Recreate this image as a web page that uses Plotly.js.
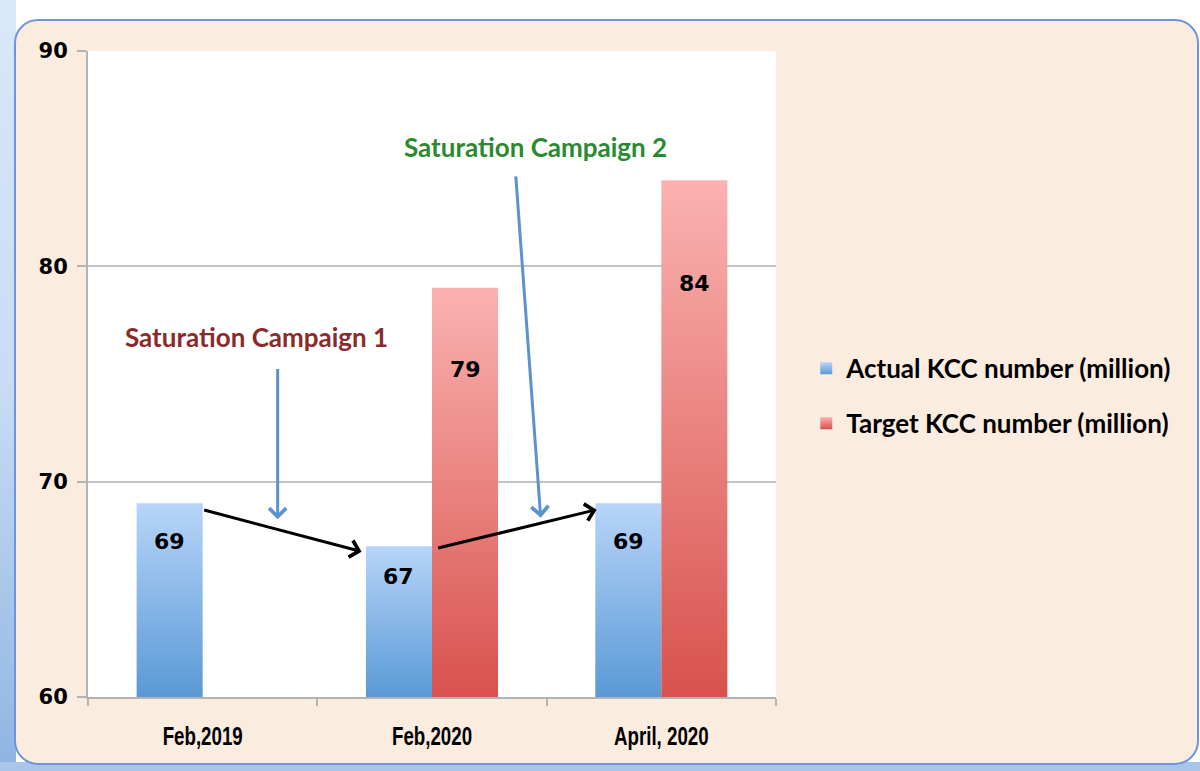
<!DOCTYPE html>
<html>
<head>
<meta charset="utf-8">
<script src="https://cdn.plot.ly/plotly-3.0.1.min.js"></script>
<style>
  html, body { margin: 0; padding: 0; background: #ffffff; }
  #wrap { position: relative; width: 1200px; height: 771px; overflow: hidden; }
  #leftstrip { position: absolute; left: 0; top: 0; width: 16px; height: 771px;
    background: linear-gradient(#d9e8fa, #c8dcf4 50%, #8fb4e2); }
  #bottomstrip { position: absolute; left: 0; top: 762px; width: 1200px; height: 9px; background: #a9c6ea; }
  #frame { position: absolute; left: 14px; top: 19px; width: 1181px; height: 742px;
    background: #fbece0; border: 2px solid #6f95d8; border-radius: 24px; }
  #chart { position: absolute; left: 0; top: 0; width: 1200px; height: 771px; }
</style>
</head>
<body>
<svg width="0" height="0" style="position:absolute">
  <defs>
    <linearGradient id="gBlue" x1="0" y1="0" x2="0" y2="1">
      <stop offset="0" stop-color="#b7d5f8"/>
      <stop offset="1" stop-color="#5a99d6"/>
    </linearGradient>
    <linearGradient id="gRed" x1="0" y1="0" x2="0" y2="1">
      <stop offset="0" stop-color="#fab2b1"/>
      <stop offset="1" stop-color="#d8524d"/>
    </linearGradient>
  </defs>
</svg>
<div id="wrap">
  <div id="leftstrip"></div>
  <div id="bottomstrip"></div>
  <div id="frame"></div>
  <div id="chart"></div>
</div>
<script>
// ---- data ----
const categories = ["Feb,2019", "Feb,2020", "April, 2020"];
const actualKCC = [69, 67, 69];
const targetKCC = [null, 79, 84];
const seriesNames = ["Actual KCC number (million)", "Target KCC number (million)"];
const yTicks = [60, 70, 80, 90];
const campaignLabels = ["Saturation Campaign 1", "Saturation Campaign 2"];

// ---- styling ----
const BARGAP = 0.424;
const barOffset = (1 - BARGAP) / 4;   // centre offset of each bar inside its group (category units)
const yMin = yTicks[0];
const blue = "#8bb9ea";
const red = "#ea8683";
const numFont = "DejaVu Sans, Verdana, sans-serif";
const txtFont = "Lato, Carlito, Calibri, sans-serif";
const X_LABEL_SQUEEZE = 0.72;          // condensed look of the category labels

const traces = [
  { type: "bar", name: seriesNames[0], x: categories,
    y: actualKCC.map(v => v === null ? null : v - yMin), base: yMin,
    marker: { color: blue }, legendgroup: "a", hoverinfo: "skip" },
  { type: "bar", name: seriesNames[1], x: categories,
    y: targetKCC.map(v => v === null ? null : v - yMin), base: yMin,
    marker: { color: red }, legendgroup: "b", hoverinfo: "skip" }
];

// data labels inside bars (placed about 80% up the visible bar)
const annotations = [];
[actualKCC, targetKCC].forEach((arr, s) => {
  arr.forEach((v, i) => {
    if (v === null) return;
    annotations.push({
      xref: "x", yref: "y", x: i + (s === 0 ? -barOffset : barOffset),
      y: yMin + 0.8 * (v - yMin), text: String(v), showarrow: false,
      font: { family: numFont, size: 22, color: "#000000", weight: "bold" }
    });
  });
});

// campaign labels
annotations.push({ xref: "x", yref: "y", x: 0.236, y: 76.72, text: campaignLabels[0],
  showarrow: false, font: { family: txtFont, size: 26, color: "#8b2a2a", weight: "bold" } });
annotations.push({ xref: "x", yref: "y", x: 1.452, y: 85.55, text: campaignLabels[1],
  showarrow: false, font: { family: txtFont, size: 26, color: "#2a8a2e", weight: "bold" } });

// arrows (head x,y ; tail ax,ay)
function arrow(x, y, ax, ay, color) {
  return { xref: "x", yref: "y", axref: "x", ayref: "y", x: x, y: y, ax: ax, ay: ay,
    text: "", showarrow: true, arrowhead: 4, arrowsize: 1.1, arrowwidth: 3,
    arrowcolor: color, standoff: 0, startstandoff: 0 };
}
annotations.push(arrow(0.327, 68.25, 0.327, 75.3, "#5b93cc"));
annotations.push(arrow(1.474, 68.33, 1.365, 84.25, "#5b93cc"));
annotations.push(arrow(0.693, 66.75, 0.0, 68.7, "#000000"));
annotations.push(arrow(1.718, 68.7, 1.02, 66.9, "#000000"));

const layout = {
  width: 1200, height: 771,
  margin: { l: 88, r: 424, t: 51, b: 74, pad: 0 },
  paper_bgcolor: "rgba(0,0,0,0)",
  plot_bgcolor: "#ffffff",
  barmode: "group", bargap: BARGAP, bargroupgap: 0,
  showlegend: true,
  legend: { x: 1.044, xanchor: "left", y: 0.545, yanchor: "top",
    bgcolor: "rgba(0,0,0,0)", traceorder: "grouped", tracegroupgap: 18,
    font: { family: txtFont, size: 26, color: "#000000", weight: "bold" } },
  xaxis: {
    type: "category", showgrid: false, showline: true, linecolor: "#b3b3b3", linewidth: 2,
    ticks: "outside", tickson: "boundaries", ticklen: 7, tickcolor: "#b3b3b3", tickwidth: 2,
    tickfont: { family: "Liberation Sans, Arial, sans-serif", size: 26, color: "#000000", weight: "bold" },
    ticklabelstandoff: 15, range: [-0.5, 2.5], fixedrange: true
  },
  yaxis: {
    range: [60, 90], tickvals: yTicks, ticktext: yTicks.map(String),
    showgrid: true, gridcolor: "#c4c4c4", gridwidth: 2,
    showline: true, linecolor: "#b3b3b3", linewidth: 2,
    ticks: "outside", ticklen: 9, tickcolor: "#b3b3b3", tickwidth: 2,
    tickfont: { family: numFont, size: 21, color: "#000000", weight: "bold" },
    ticklabelstandoff: 5, zeroline: false, fixedrange: true
  },
  annotations: annotations
};

Plotly.newPlot("chart", traces, layout, { displayModeBar: false, staticPlot: true }).then(gd => {
  // Excel-like vertical gradient on the bars and legend swatches
  const grads = ["url(#gBlue)", "url(#gRed)"];
  gd.querySelectorAll(".barlayer .trace").forEach((t, i) => {
    t.querySelectorAll("path").forEach(p => { p.style.fill = grads[i % 2]; });
  });
  gd.querySelectorAll(".legend .traces").forEach((t, i) => {
    t.querySelectorAll(".legendpoints path").forEach(p => { p.style.fill = grads[i % 2]; });
  });
  // condense the category labels horizontally about their own centre
  gd.querySelectorAll(".xtick text").forEach(el => {
    const bb = el.getBBox();
    const cx = bb.x + bb.width / 2;
    const tr = el.getAttribute("transform") || "";
    el.setAttribute("transform",
      tr + " translate(" + cx + ",0) scale(" + X_LABEL_SQUEEZE + ",1) translate(" + (-cx) + ",0)");
  });
});
</script>
</body>
</html>
